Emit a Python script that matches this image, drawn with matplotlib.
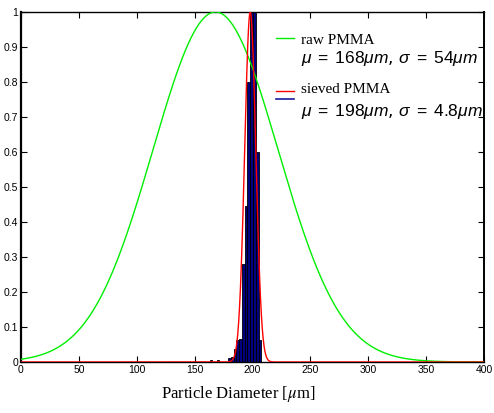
import numpy as np
import matplotlib
matplotlib.use("Agg")
import matplotlib.pyplot as plt
from matplotlib.lines import Line2D
from matplotlib.legend_handler import HandlerBase

# fitted gaussians (from the legend)
raw_mu, raw_sigma = 168.0, 54.0
sieved_mu, sieved_sigma = 198.0, 4.8

# histogram of the sieved sample (normalised counts)
bin_left = [163.5, 169.5, 178.8, 181.2, 183.6, 186.0, 188.4, 190.8, 193.2,
            195.6, 198.0, 200.4, 202.8, 205.2]
bin_width = [1.2, 1.2, 2.4, 2.4, 2.4, 2.4, 2.4, 2.4, 2.4,
             2.4, 2.4, 2.4, 2.4, 2.4]
bin_height = [0.006, 0.006, 0.012, 0.013, 0.037, 0.062, 0.065, 0.28, 0.446,
              0.80, 1.0, 1.0, 0.60, 0.063]

xticks = [0, 50, 100, 150, 200, 250, 300, 350, 400]
yticks = [0, 0.1, 0.2, 0.3, 0.4, 0.5, 0.6, 0.7, 0.8, 0.9, 1]
yticklabels = ["0", "0.1", "0.2", "0.3", "0.4", "0.5", "0.6", "0.7", "0.8", "0.9", "1"]

plt.rcParams["mathtext.fontset"] = "custom"
plt.rcParams["mathtext.rm"] = "Liberation Sans"
plt.rcParams["mathtext.it"] = "Liberation Sans:italic"


class StackedLines(HandlerBase):
    # red line on the text row, blue line just below it
    def create_artists(self, legend, orig_handle, xdescent, ydescent,
                       width, height, fontsize, trans):
        out = []
        for h, y in zip(orig_handle, (0.2 * height, -0.55 * height)):
            ln = Line2D([-xdescent, -xdescent + width], [y - ydescent] * 2,
                        color=h.get_color(), lw=h.get_linewidth())
            ln.set_transform(trans)
            out.append(ln)
        return out


d = np.linspace(0, 400, 2001)
raw = np.exp(-(d - raw_mu) ** 2 / (2 * raw_sigma ** 2))
sieved = np.exp(-(d - sieved_mu) ** 2 / (2 * sieved_sigma ** 2))

fig = plt.figure(figsize=(4.94, 4.13), dpi=100)
ax = fig.add_axes([0.0425, 0.1235, 0.9375, 0.8475])

ax.bar(bin_left, bin_height, width=bin_width, align="edge",
       color="#000080", edgecolor="black", linewidth=0.6, zorder=2)
g, = ax.plot(d, raw, color="#00ee00", lw=1.0, zorder=3)
r, = ax.plot(d, sieved, color="red", lw=1.0, zorder=4)
b = Line2D([], [], color="#1a1aa0", lw=1.2)

ax.set_xlim(0, 400)
ax.set_ylim(0, 1)
ax.set_xticks(xticks)
ax.set_yticks(yticks)
ax.set_yticklabels(yticklabels)
ax.tick_params(direction="in", top=True, right=True, length=4, width=0.8,
               labelsize=7.5, pad=2)
for lab in ax.get_xticklabels() + ax.get_yticklabels():
    lab.set_fontfamily("Liberation Sans")
for s in ax.spines.values():
    s.set_linewidth(1.0)
ax.spines["left"].set_linewidth(1.6)
ax.spines["right"].set_linewidth(1.4)

ax.set_xlabel(r"Particle Diameter [$\mu$m]", fontfamily="Liberation Serif",
              fontsize=12, math_fontfamily="stix")
ax.xaxis.set_label_coords(0.469, -0.062)

blank = Line2D([], [], color="none")
common = dict(loc="upper left", frameon=False, handlelength=1.15,
              handletextpad=0.45, borderpad=0, borderaxespad=0, fontsize=11)
leg1 = ax.legend([g, blank],
                 ["raw PMMA", r"$\mu\;=\;168\mu m$, $\sigma\;=\;54\mu m$"],
                 bbox_to_anchor=(0.551, 0.94), labelspacing=0.15, **common)
ax.add_artist(leg1)
leg2 = ax.legend([(r, b), blank],
                 ["sieved PMMA", r"$\mu\;=\;198\mu m$, $\sigma\;=\;4.8\mu m$"],
                 handler_map={tuple: StackedLines()},
                 bbox_to_anchor=(0.551, 0.798), labelspacing=0.4, **common)
for lg in (leg1, leg2):
    txt = lg.get_texts()
    txt[0].set_fontfamily("Liberation Serif")
    txt[1].set_fontsize(12.5)

fig.savefig("out.png", dpi=100)
